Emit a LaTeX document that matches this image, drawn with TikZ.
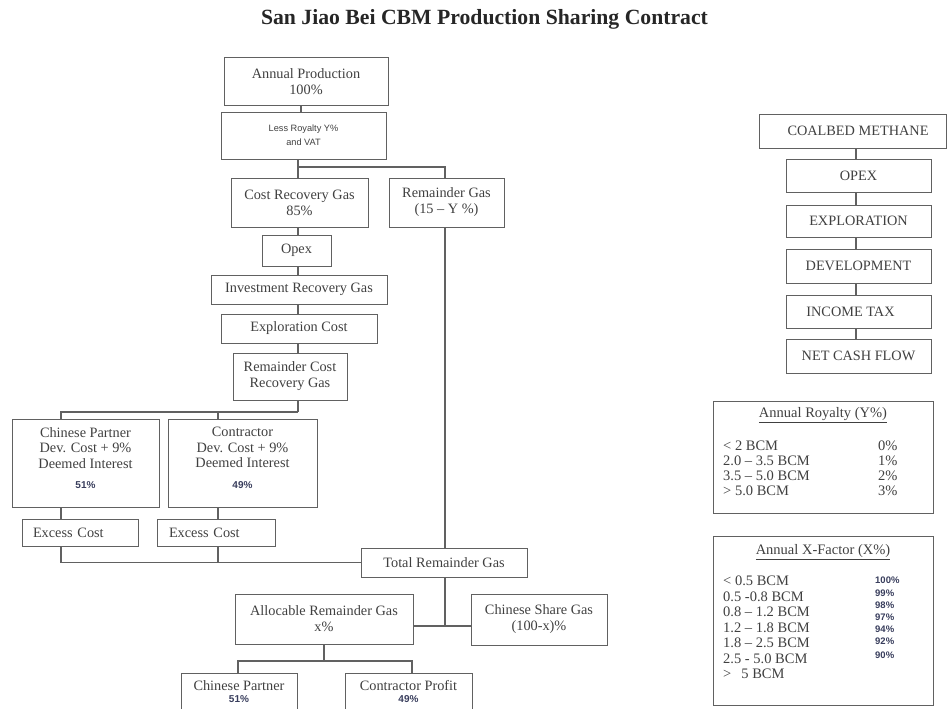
\documentclass[tikz,border=0pt]{standalone}
\usepackage{fontspec}
\setmainfont{Liberation Serif}
\newfontfamily\tinysans{Liberation Sans}
\definecolor{linec}{gray}{0.38}
\definecolor{txtc}{gray}{0.25}
\definecolor{pctc}{rgb}{0.22,0.24,0.36}
\newcommand{\pcttext}[1]{{\tinysans\bfseries\fontsize{10}{11}\selectfont\color{pctc}#1}}
\begin{document}
\begin{tikzpicture}[x=1pt,y=-1pt,
  box/.style={draw=linec, line width=1pt, inner sep=0pt, align=center,
    font=\fontsize{14.3}{16}\selectfont, text=txtc},
  conn/.style={draw=linec, line width=1.1pt},
  tab/.style={font=\fontsize{14.5}{15}\selectfont, text=txtc, inner sep=0pt},
  tabpct/.style={font=\tinysans\bfseries\fontsize{9.5}{10}\selectfont, text=pctc, inner sep=0pt}]
\useasboundingbox (0,0) rectangle (948,709);
\clip (0,0) rectangle (948,709);

% title
\node[font=\bfseries\fontsize{21.7}{24}\selectfont, text=black!85] (title) at (484.5,19) {San Jiao Bei CBM Production Sharing Contract};

% column coordinates
\coordinate (xa) at (301,0);
\coordinate (xb) at (298,0);
\coordinate (xr) at (445,0);
\coordinate (x61) at (61,0);
\coordinate (x218) at (218,0);
\coordinate (x324) at (324,0);
\coordinate (x238) at (238,0);
\coordinate (x412) at (412,0);
\coordinate (x856) at (856,0);
\coordinate (j1) at (445,167);
\coordinate (j2) at (298,412);
\coordinate (j4) at (445,626);
\coordinate (j5) at (324,661);

% left flow
\node[box, minimum width=164pt, minimum height=47pt] (ap) at (306,81.5) {Annual Production\\100\%};
\node[box, minimum width=165pt, minimum height=47pt, font=\tinysans\fontsize{9.2}{14}\selectfont] (lr) at (303.5,135.5) {Less Royalty Y\%\\and VAT};
\node[box, minimum width=137pt, minimum height=49pt] (crg) at (299.5,202.5) {Cost Recovery Gas\\85\%};
\node[box, minimum width=115pt, minimum height=49pt] (rg) at (446.5,202.5) {Remainder Gas\\(15 -- Y \%)};
\node[box, minimum width=69pt, minimum height=31pt] (opex) at (296.5,250.5) {Opex};
\node[box, minimum width=176pt, minimum height=29pt] (irg) at (299,289.5) {Investment Recovery Gas};
\node[box, minimum width=156pt, minimum height=29pt] (ec) at (299,328.5) {Exploration Cost};
\node[box, minimum width=114pt, minimum height=47pt] (rcr) at (290,376.5) {Remainder Cost\\Recovery Gas};
\node[box, minimum width=147pt, minimum height=88pt, text depth=10pt, font=\fontsize{14.3}{15.5}\selectfont] (cp) at (85.5,463) {Chinese Partner\\Dev. Cost + 9\%\\Deemed Interest\\[5pt]\pcttext{51\%}};
\node[box, minimum width=149pt, minimum height=88pt, text depth=10pt, font=\fontsize{14.3}{15.5}\selectfont] (ct) at (242.5,463) {Contractor\\Dev. Cost + 9\%\\Deemed Interest\\[5pt]\pcttext{49\%}};
\node[box, minimum height=27pt, text width=94pt, inner xsep=11pt, align=left] (ex1) at (80,532.5) {Excess Cost};
\node[box, minimum height=27pt, text width=94pt, inner xsep=12pt, align=left] (ex2) at (216,532.5) {Excess Cost};
\node[box, minimum width=166pt, minimum height=29pt] (trg) at (444,562.5) {Total Remainder Gas};
\node[box, minimum width=178pt, minimum height=50pt] (arg) at (324,619) {Allocable Remainder Gas\\x\%};
\node[box, minimum width=136pt, minimum height=51pt] (csg) at (539,619.5) {Chinese Share Gas\\(100-x)\%};
\node[box, minimum width=116pt, minimum height=38pt, font=\fontsize{14.3}{12}\selectfont] (cpb) at (239,692) {Chinese Partner\\\pcttext{51\%}};
\node[box, minimum width=127pt, minimum height=38pt, font=\fontsize{14.3}{12}\selectfont] (cop) at (408.5,692) {Contractor Profit\\\pcttext{49\%}};

% left connectors
\draw[conn] (ap.south -| xa) -- (lr.north -| xa);
\draw[conn] (lr.south -| xb) -- (crg.north -| xb);
\draw[conn] (crg.north -| xb) |- (j1) -- (rg.north -| xr);
\draw[conn] (crg.south -| xb) -- (opex.north -| xb);
\draw[conn] (opex.south -| xb) -- (irg.north -| xb);
\draw[conn] (irg.south -| xb) -- (ec.north -| xb);
\draw[conn] (ec.south -| xb) -- (rcr.north -| xb);
\draw[conn] (rcr.south -| xb) -- (j2);
\draw[conn] (cp.north -| x61) |- (j2);
\draw[conn] (ct.north -| x218) -- (x218 |- j2);
\draw[conn] (cp.south -| x61) -- (ex1.north -| x61);
\draw[conn] (ct.south -| x218) -- (ex2.north -| x218);
\draw[conn] (ex1.south -| x61) |- (trg.west);
\draw[conn] (ex2.south -| x218) -- (x218 |- trg.west);
\draw[conn] (rg.south -| xr) -- (trg.north -| xr);
\draw[conn] (trg.south -| xr) -- (j4);
\draw[conn] (arg.east |- j4) -- (csg.west |- j4);
\draw[conn] (arg.south -| x324) -- (j5);
\draw[conn] (cpb.north -| x238) |- (j5) -| (cop.north -| x412);

% right stack
\node[box, minimum width=187pt, minimum height=34pt] (cbm) at (852.5,131) {\hspace*{11pt}COALBED METHANE};
\node[box, minimum width=145pt, minimum height=33pt] (opr) at (858.5,175.5) {OPEX};
\node[box, minimum width=145pt, minimum height=32pt] (exr) at (858.5,221) {EXPLORATION};
\node[box, minimum width=145pt, minimum height=34pt] (dev) at (858.5,266) {DEVELOPMENT};
\node[box, minimum width=145pt, minimum height=33pt] (itx) at (858.5,311.5) {INCOME TAX\hspace*{16pt}};
\node[box, minimum width=145pt, minimum height=34pt] (ncf) at (858.5,356) {NET CASH FLOW};
\draw[conn] (cbm.south -| x856) -- (opr.north -| x856);
\draw[conn] (opr.south -| x856) -- (exr.north -| x856);
\draw[conn] (exr.south -| x856) -- (dev.north -| x856);
\draw[conn] (dev.south -| x856) -- (itx.north -| x856);
\draw[conn] (itx.south -| x856) -- (ncf.north -| x856);

% royalty table
\node[box, minimum width=220pt, minimum height=112pt] (roy) at (823,457) {};
\node[tab] (royt) at (823,415) {\underline{Annual Royalty (Y\%)}};
\node[tab, anchor=west] (r1) at (723,446) {< 2 BCM};
\node[tab, anchor=west] (r2) at (723,461) {2.0 -- 3.5 BCM};
\node[tab, anchor=west] (r3) at (723,476) {3.5 -- 5.0 BCM};
\node[tab, anchor=west] (r4) at (723,491) {> 5.0 BCM};
\node[tab, anchor=west] (v1) at (878,446) {0\%};
\node[tab, anchor=west] (v2) at (878,461) {1\%};
\node[tab, anchor=west] (v3) at (878,476) {2\%};
\node[tab, anchor=west] (v4) at (878,491) {3\%};

% x-factor table
\node[box, minimum width=220pt, minimum height=169pt] (xf) at (823,620.5) {};
\node[tab] (xft) at (823,552) {\underline{Annual X-Factor (X\%)}};
\node[tab, anchor=west] (s1) at (723,581) {< 0.5 BCM};
\node[tab, anchor=west] (s2) at (723,597) {0.5 -0.8 BCM};
\node[tab, anchor=west] (s3) at (723,612) {0.8 -- 1.2 BCM};
\node[tab, anchor=west] (s4) at (723,628) {1.2 -- 1.8 BCM};
\node[tab, anchor=west] (s5) at (723,643) {1.8 -- 2.5 BCM};
\node[tab, anchor=west] (s6) at (723,659) {2.5 - 5.0 BCM};
\node[tab, anchor=west] (s7) at (723,674) {>\hspace*{10pt}5 BCM};
\node[tabpct, anchor=west] (w1) at (875,580) {100\%};
\node[tabpct, anchor=west] (w2) at (875,593) {99\%};
\node[tabpct, anchor=west] (w3) at (875,605) {98\%};
\node[tabpct, anchor=west] (w4) at (875,617) {97\%};
\node[tabpct, anchor=west] (w5) at (875,629) {94\%};
\node[tabpct, anchor=west] (w6) at (875,641) {92\%};
\node[tabpct, anchor=west] (w7) at (875,655) {90\%};
\end{tikzpicture}
\end{document}
